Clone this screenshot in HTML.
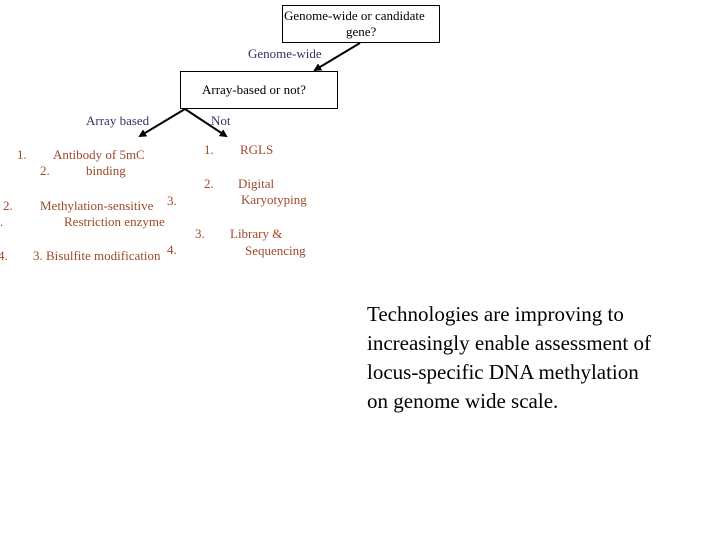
<!DOCTYPE html>
<html><head><style>
body{margin:0;width:720px;height:540px;background:#fff;position:relative;overflow:hidden;font-family:"Liberation Serif",serif;}
.t{position:absolute;white-space:nowrap;font-size:13px;line-height:15px;}
.b{color:#333366}
.o{color:#a0482a}
.k{color:#000}
</style></head><body>
<svg width="720" height="540" style="position:absolute;left:0;top:0">
<defs><marker id="a" markerWidth="8" markerHeight="8" refX="6" refY="4" orient="auto" markerUnits="userSpaceOnUse"><path d="M0,0 L8,4 L0,8 z" fill="#000"/></marker></defs>
<rect x="282.5" y="5.5" width="157" height="37" fill="none" stroke="#000"/>
<rect x="180.5" y="71.5" width="157" height="37" fill="none" stroke="#000"/>
<line x1="360" y1="43" x2="315" y2="70" stroke="#000" stroke-width="2" marker-end="url(#a)"/>
<line x1="185" y1="109" x2="140" y2="136" stroke="#000" stroke-width="2" marker-end="url(#a)"/>
<line x1="185" y1="109" x2="226" y2="136" stroke="#000" stroke-width="2" marker-end="url(#a)"/>
</svg>
<div class="t k" style="left:284px;top:8px">Genome-wide or candidate</div>
<div class="t k" style="left:346px;top:24px">gene?</div>
<div class="t b" style="left:248px;top:46px">Genome-wide</div>
<div class="t k" style="left:202px;top:82px">Array-based or not?</div>
<div class="t b" style="left:86px;top:113px">Array based</div>
<div class="t b" style="left:211px;top:113px">Not</div>
<div class="t o" style="left:17px;top:147px">1.</div>
<div class="t o" style="left:53px;top:147px">Antibody of 5mC</div>
<div class="t o" style="left:40px;top:163px">2.</div>
<div class="t o" style="left:86px;top:163px">binding</div>
<div class="t o" style="left:3px;top:198px">2.</div>
<div class="t o" style="left:40px;top:198px">Methylation-sensitive</div>
<div class="t o" style="left:167px;top:193px">3.</div>
<div class="t o" style="left:0px;top:214px">.</div>
<div class="t o" style="left:64px;top:214px">Restriction enzyme</div>
<div class="t o" style="left:-2px;top:248px">4.</div>
<div class="t o" style="left:33px;top:248px">3. Bisulfite modification</div>
<div class="t o" style="left:167px;top:242px">4.</div>
<div class="t o" style="left:204px;top:142px">1.</div>
<div class="t o" style="left:240px;top:142px">RGLS</div>
<div class="t o" style="left:204px;top:176px">2.</div>
<div class="t o" style="left:238px;top:176px">Digital</div>
<div class="t o" style="left:241px;top:192px">Karyotyping</div>
<div class="t o" style="left:195px;top:226px">3.</div>
<div class="t o" style="left:230px;top:226px">Library &amp;</div>
<div class="t o" style="left:245px;top:243px">Sequencing</div>
<div class="t k" style="left:367px;top:300px;font-size:21px;line-height:29px">Technologies are improving to<br>increasingly enable assessment of<br>locus-specific DNA methylation<br>on genome wide scale.</div>
</body></html>
